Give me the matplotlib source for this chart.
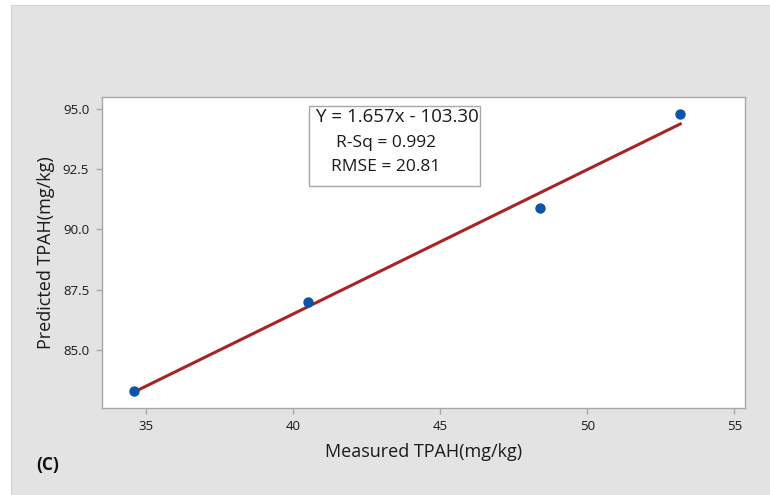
import numpy as np
import matplotlib
matplotlib.use("Agg")
import matplotlib.pyplot as plt
from matplotlib.patches import Rectangle

plt.rcParams["font.family"] = ["Open Sans", "DejaVu Sans"]

measured = [34.6, 40.51, 48.40, 53.16]
predicted = [83.27, 86.99, 90.89, 94.79]
x_ticks = [35, 40, 45, 50, 55]
y_ticks = [85.0, 87.5, 90.0, 92.5, 95.0]
stats_lines = ["Y = 1.657x - 103.30", "R-Sq = 0.992", "RMSE = 20.81"]

fig = plt.figure(figsize=(7.7, 4.95), dpi=100)
fig.patch.set_facecolor("white")
# grey panel behind the plot
fig.add_artist(Rectangle((11 / 770, 0), 1, 490 / 495, transform=fig.transFigure,
                         facecolor="#e3e3e3", edgecolor="#d2d2d2", lw=0.8, zorder=-5))

ax = fig.add_axes([0.1321, 0.1758, 0.8354, 0.6276])
ax.set_zorder(1)
ax.set_facecolor("white")

# fitted line over the measured range
coef = np.polyfit(measured, predicted, 1)
xs = np.array([min(measured), max(measured)])
ax.plot(xs, np.polyval(coef, xs), color="#a82424", lw=2.2, zorder=2)
ax.scatter(measured, predicted, s=42, color="#0a55a8", zorder=3)

ax.set_xlim(33.5, 55.36)
ax.set_ylim(82.58, 95.49)
ax.set_xticks(x_ticks)
ax.set_yticks(y_ticks)
ax.set_xticklabels([str(t) for t in x_ticks])
ax.set_yticklabels([f"{t:.1f}" for t in y_ticks])

for s in ax.spines.values():
    s.set_color("#a8a8a8")
    s.set_linewidth(1.0)
ax.tick_params(direction="out", length=4, width=1, color="#a8a8a8",
               labelsize=9.5, labelcolor="#1a1a1a", pad=5)

ax.set_xlabel("Measured TPAH(mg/kg)", fontsize=13, color="#1a1a1a", labelpad=7)
ax.set_ylabel("Predicted TPAH(mg/kg)", fontsize=13, color="#1a1a1a", labelpad=6)

# stats box
fig.add_artist(Rectangle((309 / 770, 1 - 186 / 495), 171 / 770, 80 / 495,
                         transform=fig.transFigure, facecolor="white",
                         edgecolor="#a8a8a8", lw=1.0, zorder=5))
fig.text(397 / 770, 1 - 117 / 495, stats_lines[0], fontsize=13.5, ha="center", va="center",
         color="#1a1a1a", zorder=6)
fig.text(386 / 770, 1 - 143 / 495, stats_lines[1], fontsize=12.5, ha="center", va="center",
         color="#1a1a1a", zorder=6)
fig.text(386 / 770, 1 - 167 / 495, stats_lines[2], fontsize=12.5, ha="center", va="center",
         color="#1a1a1a", zorder=6)

fig.text(48 / 770, 1 - 465 / 495, "(C)", fontsize=12.5, fontweight="bold", ha="center",
         va="center", color="#111111")

fig.savefig("out.png", dpi=100)
